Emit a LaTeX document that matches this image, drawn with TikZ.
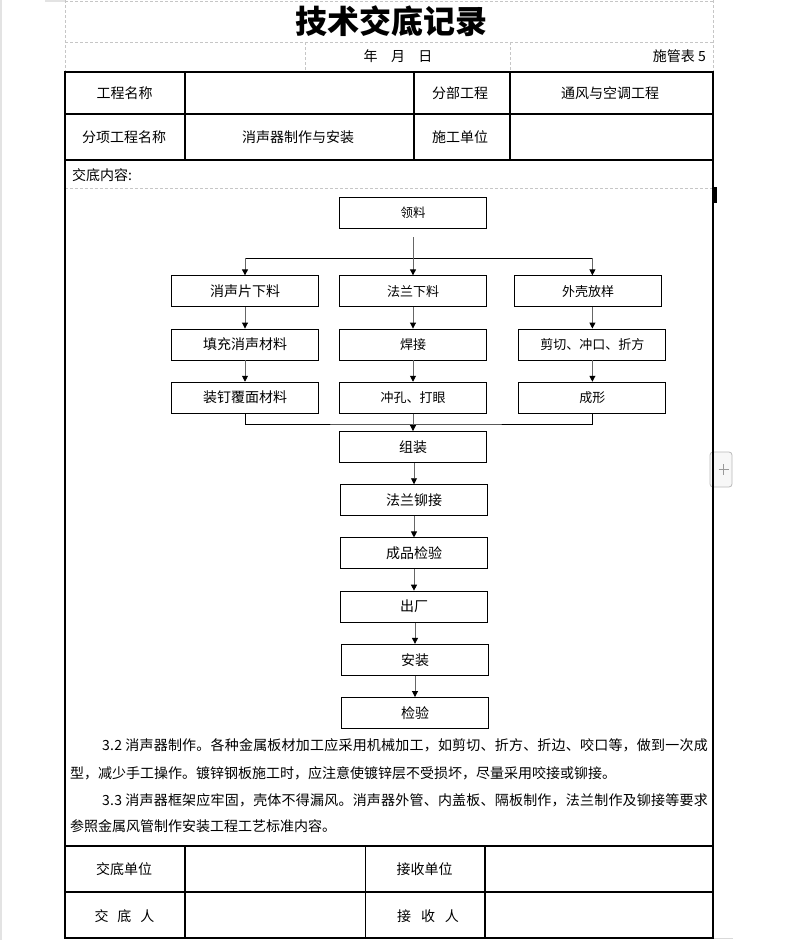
\documentclass[tikz,border=0pt]{standalone}
\usepackage{fontspec}
\setmainfont{Noto Sans CJK SC}
\newfontfamily\spreadfont[LetterSpace=1.5]{Noto Sans CJK SC}
\usetikzlibrary{arrows.meta,positioning}
\tikzset{
  dashgrid/.style={draw=gray!45,dash pattern=on 3pt off 2pt,line width=0.7pt},
  outer/.style={line width=2.6pt},
  inner/.style={line width=1.1pt},
  flowblk/.style={draw,line width=0.9pt,minimum width=147pt,minimum height=31pt,inner sep=0pt,font=\fontsize{13}{15}\selectfont},
  bigblk/.style={flowblk,font=\fontsize{14}{16}\selectfont},
  cell/.style={inner sep=0pt,font=\fontsize{14}{16}\selectfont},
  txtline/.style={cell,anchor=west},
  ln/.style={line width=0.9pt},
  arr/.style={line width=0.9pt,draw=black!60,-{Triangle[width=6pt,length=6pt,color=black]}}
}
\begin{document}
\begin{tikzpicture}[x=1pt,y=-1pt,node distance=21.3pt]
  \useasboundingbox (0,0) rectangle (796,940);
  % window edges
  \fill[gray!22] (0,0) rectangle (2,940);
  \fill[gray!22] (45,0) rectangle (65,1.5);
  \fill[gray!30] (714,937.6) rectangle (733,939.2);
  % sheet grid above the table
  \draw[dashgrid] (65,1) -- (713,1);
  \draw[dashgrid] (65,42) -- (713,42);
  \draw[dashgrid] (65,0) -- (65,72) (713,0) -- (713,72);
  \draw[dashgrid] (305,42) -- (305,72) (510,42) -- (510,72);
  \draw[dashgrid] (65,188) -- (713,188);

  \node[font=\fontsize{32}{34}\selectfont\bfseries] (title) at (391,21) {技术交底记录};
  \node[cell] (date) at (398,56) {年\hspace{13.5pt}月\hspace{13.5pt}日};
  \node[cell,anchor=east] (biao) at (706,56) {施管表 5};

  % header cells
  \draw[inner] (65,114) -- (713,114) (65,160) -- (713,160);
  \draw[inner] (185,72) -- (185,160) (414,72) -- (414,160) (510,72) -- (510,160);
  \node[cell] (gcmc) at (124.5,93) {工程名称};
  \node[cell] (fbgc) at (460,93) {分部工程};
  \node[cell] (tfkt) at (610,93) {通风与空调工程};
  \node[cell] (fxgc) at (124,137) {分项工程名称};
  \node[cell] (xsq) at (298,137) {消声器制作与安装};
  \node[cell] (sgdw) at (460,137) {施工单位};
  \node[txtline] (jdnr) at (72,175) {交底内容:};

  % flow chart
  \node[flowblk,font=\fontsize{12.5}{14}\selectfont] (ll) at (413,212.8) {领料};
  \node[bigblk] (xsp) at (245,291.3) {消声片下料};
  \node[flowblk] (fl) at (413,291.3) {法兰下料};
  \node[flowblk] (wk) at (588,291.3) {外壳放样};
  \node[bigblk, below=of xsp] (tc) {填充消声材料};
  \node[bigblk, below=of tc] (zd) {装钉覆面材料};
  \node[flowblk, below=of fl] (hj) {焊接};
  \node[flowblk, below=of hj] (ck) {冲孔、打眼};
  \node[flowblk, below=of wk, xshift=4.4pt] (jq) {剪切、冲口、折方};
  \node[flowblk, below=of jq] (cx) {成形};
  \node[bigblk] (zz) at (413,447) {组装};
  \node[bigblk, below=of zz, xshift=1pt] (mj) {法兰铆接};
  \node[bigblk, below=of mj] (cp) {成品检验};
  \node[bigblk, below=of cp] (cc) {出厂};
  \node[bigblk, below=of cc, xshift=1pt] (az) {安装};
  \node[bigblk, below=of az] (jy) {检验};

  \coordinate (split) at (413,258);
  \coordinate (merge) at (413,424);
  \draw[ln] (xsp.north |- split) -- (jq.north |- split);
  \draw[arr] ([yshift=-8.5pt]ll.south) -- (fl.north);
  \draw[arr] (xsp.north |- split) -- (xsp.north);
  \draw[arr] (jq.north |- split) -- (jq.north |- wk.north);
  \draw[arr] (xsp) -- (tc);
  \draw[arr] (tc) -- (zd);
  \draw[arr] (fl) -- (hj);
  \draw[arr] (hj) -- (ck);
  \draw[arr] (jq.north |- wk.south) -- (jq.north);
  \draw[arr] (jq) -- (cx);
  \draw[ln] (zd.south) |- (merge) -| (cx.south);
  \draw[arr] (ck.south) -- (zz.north);
  \draw[arr] (zz.south -| mj.north) -- (mj.north);
  \draw[arr] (mj) -- (cp);
  \draw[arr] (cp) -- (cc);
  \draw[arr] (cc.south -| az.north) -- (az.north);
  \draw[arr] (az) -- (jy);

  % notes
  \node[txtline,font=\fontsize{14}{16}\spreadfont] (p1) at (102,745) {3.2 消声器制作。各种金属板材加工应采用机械加工，如剪切、折方、折边、咬口等，做到一次成};
  \node[txtline] (p2) at (70,773) {型，减少手工操作。镀锌钢板施工时，应注意使镀锌层不受损坏，尽量采用咬接或铆接。};
  \node[txtline,font=\fontsize{14}{16}\spreadfont] (p3) at (102,800) {3.3 消声器框架应牢固，壳体不得漏风。消声器外管、内盖板、隔板制作，法兰制作及铆接等要求};
  \node[txtline] (p4) at (70,826) {参照金属风管制作安装工程工艺标准内容。};

  % signature cells
  \draw[inner] (65,846) -- (713,846) (65,892) -- (713,892);
  \draw[inner] (185,846) -- (185,938) (365.5,846) -- (365.5,938) (485,846) -- (485,938);
  \node[cell] (jddw) at (124,869) {交底单位};
  \node[cell] (jsdw) at (424.5,869) {接收单位};
  \node[cell] (jdr) at (124.5,916) {交\hspace{9pt}底\hspace{9pt}人};
  \node[cell] (jsr) at (428,916) {接\hspace{10pt}收\hspace{10pt}人};

  % sheet widgets
  \draw[gray!55,fill=gray!6,line width=0.8pt,rounded corners=3pt] (710,452) rectangle (732,487);
  \draw[gray!80,line width=0.8pt] (718.5,469.5) -- (729,469.5) (723.7,464) -- (723.7,475);
  \fill (713,187) rectangle (716.5,203);

  % table frame
  \draw[outer] (65,72) rectangle (713,938);
\end{tikzpicture}
\end{document}
